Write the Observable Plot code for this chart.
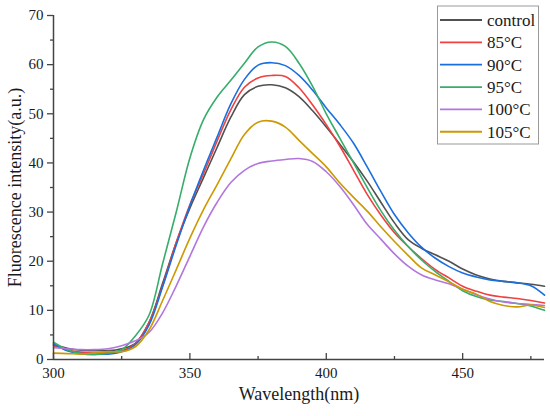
<!DOCTYPE html>
<html><head><meta charset="utf-8">
<script src="https://cdn.jsdelivr.net/npm/d3@7"></script>
<script src="https://cdn.jsdelivr.net/npm/@observablehq/plot@0.6"></script>
<style>body{margin:0;background:#fff} svg{display:block}</style>
</head><body><div id="chart"></div>
<script>
const wavelength = [300,305,310,315,320,325,330,335,340,345,350,355,360,365,370,375,380,385,390,395,400,405,410,415,420,425,430,435,440,445,450,455,460,465,470,475,480];
const seriesNames = ["control","85°C","90°C","95°C","100°C","105°C"];
const seriesColors = ["#515151","#F14040","#1A6FDF","#37AD6B","#B177DE","#CC9900"];
const control = [3.0,2.3,1.9,1.8,1.8,2.2,3.3,7.5,15.5,23.8,30.8,37,43.2,49.3,53.9,55.6,55.9,55.3,53.5,50.6,47.3,43.8,40.2,36.3,32,27.8,24.4,22.6,21.3,20,18.4,17.2,16.4,15.9,15.6,15.3,14.9];
const c85 = [2.8,2.0,1.5,1.3,1.4,1.8,3.2,7.5,15,23.8,31.5,37.8,44.5,50.8,55.4,57.3,57.8,57.6,55.3,51.8,47.8,43.4,38.5,33.6,29.4,25.8,23,20.5,18.3,16.6,14.9,13.9,13.1,12.7,12.4,12,11.5];
const c90 = [3.2,1.8,1.2,1.1,1.1,1.6,3.0,7,14.8,23.3,31.3,38.5,45.3,52,57,59.9,60.4,59.8,57.8,54.8,51.2,47.8,44,39.2,34.2,29.5,25.8,22.8,20.6,18.9,17.6,16.8,16.2,15.9,15.6,15,13.1];
const c95 = [3.5,2.0,1.2,1.0,1.3,2.0,4.8,9,19.5,30,41,48.8,53.4,56.8,60.3,63.6,64.6,63.7,60.3,55.6,50,45,40,35,30.3,26.3,23,20.2,17.9,15.9,14,12.8,12.1,11.8,11.4,10.9,10.0];
const c100 = [2.4,2.2,2.0,2.0,2.2,2.8,3.8,5.5,9.5,15,21,27,32,36,38.5,39.9,40.4,40.7,40.9,40.3,38.2,35.2,31.5,27.5,24.5,21.5,19,17.2,16.2,15.4,14.3,13.2,12.3,11.7,11.4,11.2,11.0];
const c105 = [1.3,1.2,1.1,1.3,1.6,1.6,2.6,6,12,18.3,24.7,30.5,35.6,40.8,45.8,48.3,48.5,47.3,44.6,41.9,39.2,35.9,33,30.2,27,24,21.2,18.6,17.2,15.8,14.3,13.3,11.8,11,10.7,11.1,10.6];
const xTicks = [300,350,400,450];
const xMinor = [325,375,425,475];
const yTicks = [0,10,20,30,40,50,60,70];
const yMinor = [5,15,25,35,45,55,65];
const xDomain = [300,480];
const yDomain = [0,70];
const xLabel = "Wavelength(nm)";
const yLabel = "Fluorescence intensity(a.u.)";

const allSeries = [control,c85,c90,c95,c100,c105];
const table = [];
allSeries.forEach((vals, si) => vals.forEach((v, i) => table.push({series: seriesNames[si], wl: wavelength[i], v})));

const font = "'Liberation Serif', 'Times New Roman', serif";
const axisColor = "#444";

const plot = Plot.plot({
  width: 550, height: 416,
  marginLeft: 53, marginRight: 6, marginTop: 15, marginBottom: 57,
  style: {fontFamily: font, fontSize: "15px", color: "#1a1a1a", background: "#fff"},
  x: {domain: xDomain, label: null},
  y: {domain: yDomain, label: null},
  color: {domain: seriesNames, range: seriesColors},
  marks: [
    Plot.line(table, {x: "wl", y: "v", z: "series", stroke: "series", strokeWidth: 1.6, curve: "catmull-rom"}),
    Plot.axisY({ticks: yTicks, tickSize: 6, tickPadding: 4, stroke: axisColor, strokeWidth: 1.3, fontSize: 15, label: null}),
    Plot.axisY({ticks: yMinor, tickSize: 3, text: null, stroke: axisColor, strokeWidth: 1.3, label: null}),
    Plot.axisX({ticks: xTicks, tickSize: 6, dy: -6, text: null, stroke: axisColor, strokeWidth: 1.3, label: null}),
    Plot.axisX({ticks: xMinor, tickSize: 3, dy: -3, text: null, stroke: axisColor, strokeWidth: 1.3, label: null}),
    Plot.axisX({ticks: xTicks, tickSize: 0, tickPadding: 8, fontSize: 15, label: null}),
    Plot.ruleX([xDomain[0]], {stroke: axisColor, strokeWidth: 1.5}),
    Plot.ruleY([yDomain[0]], {stroke: axisColor, strokeWidth: 1.5}),
    Plot.text([xLabel], {frameAnchor: "bottom", textAnchor: "middle", dy: 40, fontSize: 18, fill: "#1a1a1a"}),
    Plot.text([yLabel], {frameAnchor: "left", textAnchor: "middle", dx: -38, rotate: -90, fontSize: 18, fill: "#1a1a1a"})
  ]
});
document.getElementById("chart").appendChild(plot);

// legend
const svg = d3.select(plot);
const lg = svg.append("g").attr("font-family", font).style("font-family", font).attr("font-size", 17).attr("text-anchor", "start");
lg.append("rect").attr("x", 437.5).attr("y", 6).attr("width", 101).attr("height", 138)
  .attr("fill", "#fff").attr("stroke", "#999").attr("stroke-width", 1);
seriesNames.forEach((name, i) => {
  const y = 20 + i * 22.35;
  lg.append("line").attr("x1", 440).attr("x2", 482).attr("y1", y).attr("y2", y)
    .attr("stroke", seriesColors[i]).attr("stroke-width", 1.8);
  lg.append("text").attr("x", 487).attr("y", y).attr("dy", "0.35em").attr("text-anchor", "start").attr("fill", "#1a1a1a").text(name);
});
</script>
</body></html>
